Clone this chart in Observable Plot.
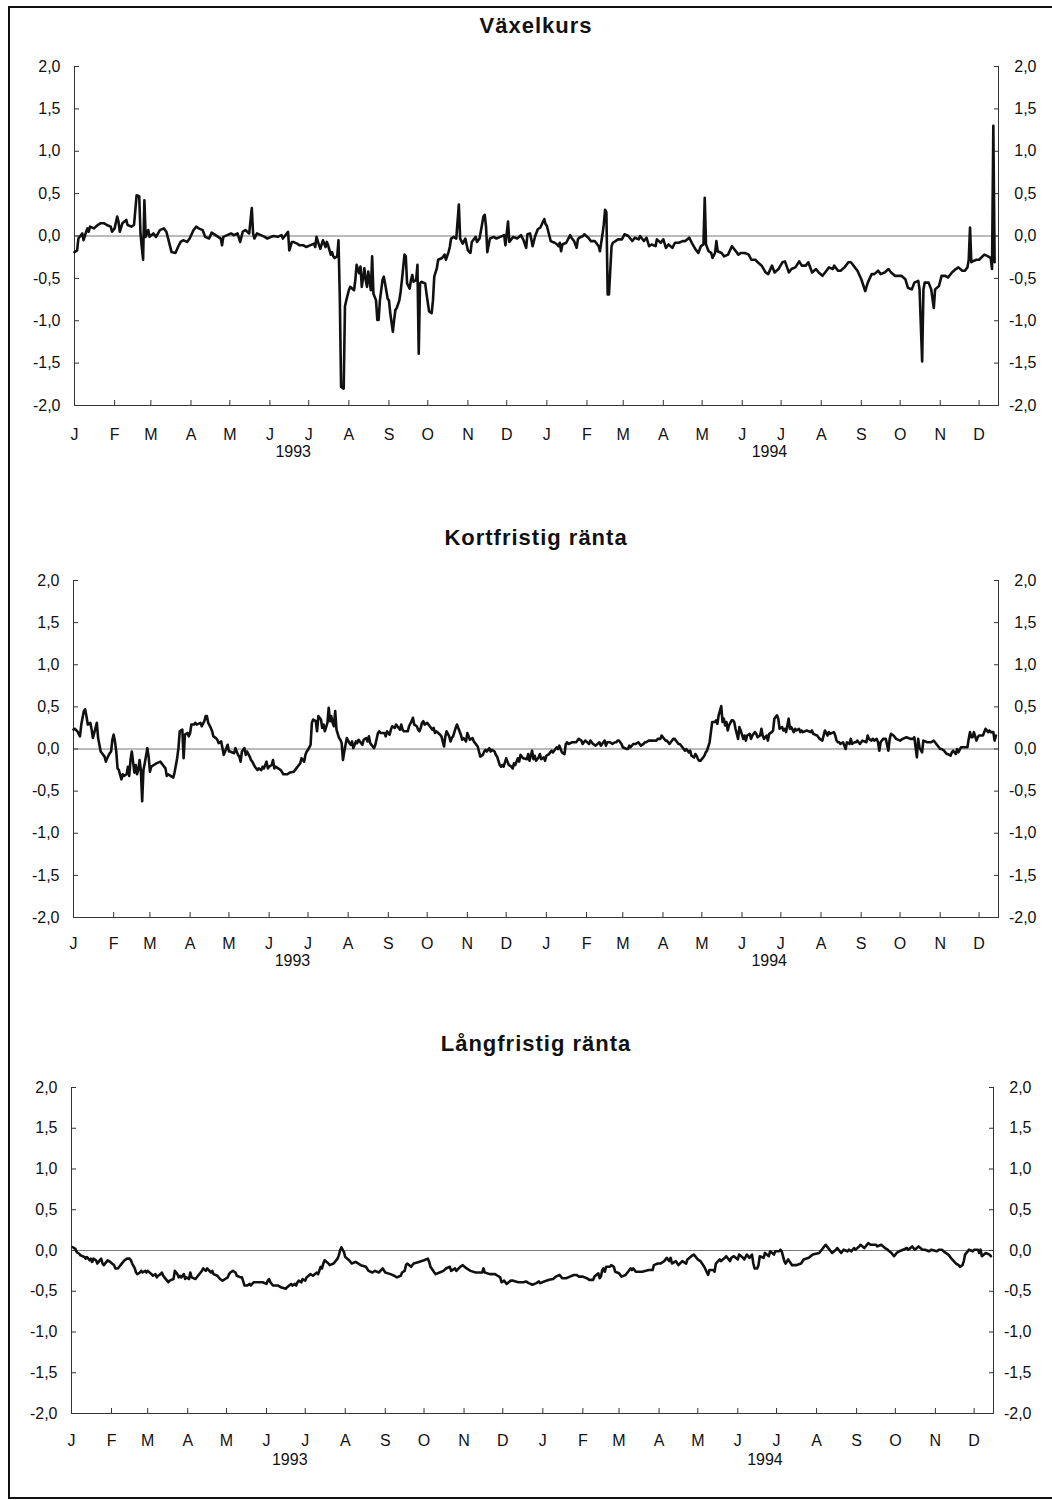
<!DOCTYPE html>
<html><head><meta charset="utf-8">
<script src="https://cdn.jsdelivr.net/npm/d3@7"></script>
<script src="https://cdn.jsdelivr.net/npm/@observablehq/plot@0.6"></script>
<style>
body{margin:0;background:#fff;}
#page{position:relative;width:1052px;height:1500px;overflow:hidden;font-family:"Liberation Sans",Arial,Helvetica,sans-serif;color:#111;}
.frame{position:absolute;left:8px;top:6px;width:1060px;height:1493px;border-left:2px solid #111;border-top:2px solid #111;border-bottom:2px solid #111;box-sizing:border-box;}
.title{position:absolute;left:0;width:1072px;text-align:center;font-weight:bold;font-size:22px;line-height:22px;letter-spacing:1px;color:#111;}
.panel{position:absolute;left:0;}
</style></head>
<body><div id="page"><div class="frame"></div></div>
<script>
// ---- data (day offset from 1993-01-01, value) ----
const titles = ["Växelkurs", "Kortfristig ränta", "Långfristig ränta"];
const monthLabels = ["J","F","M","A","M","J","J","A","S","O","N","D"];
const yearLabels = ["1993","1994"];
const yearLabelDates = [Date.UTC(1993,5,19), Date.UTC(1994,5,22)];
const yTicks = [-2,-1.5,-1,-0.5,0,0.5,1,1.5,2];

const vaxelkurs = [[0,-0.19],[2,-0.17],[3,-0.03],[6,0.03],[7,-0.05],[9,0.05],[10,0.09],[11,0.05],[12,0.11],[15,0.09],[18,0.13],[20,0.15],[23,0.15],[25,0.13],[28,0.11],[29,0.05],[31,0.09],[33,0.23],[34,0.17],[35,0.05],[37,0.15],[40,0.19],[41,0.13],[44,0.11],[46,0.13],[48,0.48],[50,0.47],[51,0.03],[52,-0.13],[53,-0.28],
[54,0.42],[55,-0.01],[57,0.07],[58,-0.01],[61,0.03],[63,-0.01],[66,0.07],[69,0.09],[71,0.05],[73,-0.07],[75,-0.19],[78,-0.2],[80,-0.13],[82,-0.07],[84,-0.05],[87,-0.07],[89,-0.03],[92,0.07],[94,0.11],[96,0.09],[99,0.07],[101,-0.01],[104,-0.03],[106,0.04],[109,0.01],[113,-0.03],[114,-0.11],[115,-0.01],[118,0.01],[121,0.03],[123,0.01],[126,0.03],[128,-0.07],[130,0.05],[132,0.07],[135,0.03],[137,0.33],[138,0.03],[139,-0.03],[141,0.03],[144,0.01],[147,-0.01],[149,-0.03],[152,-0.01],[154,0],[157,-0.01],[160,0.01],[161,-0.03],[164,0.03],[165,0.05],[166,-0.17],[168,-0.07],[169,-0.07],[172,-0.09],[174,-0.11],[177,-0.11],[179,-0.13],[182,-0.11],[185,-0.09],[186,-0.13],[187,-0.01],[189,-0.11],[190,-0.15],[192,-0.05],[194,-0.13],[195,-0.07],[196,-0.11],[198,-0.22],[199,-0.19],[200,-0.24],[201,-0.26],[203,-0.24],[204,-0.05],[205,-0.72],[206,-1.78],[208,-1.8],[209,-0.83],[210,-0.76],[212,-0.64],[213,-0.6],[216,-0.64],[217,-0.52],[218,-0.34],[220,-0.44],[221,-0.36],[222,-0.6],[224,-0.38],[225,-0.52],[226,-0.6],[227,-0.42],[229,-0.64],[230,-0.24],[231,-0.68],[233,-0.76],[234,-0.99],[235,-0.99],[236,-0.76],[238,-0.52],[239,-0.48],[240,-0.56],[242,-0.74],[243,-0.76],[244,-0.91],[246,-1.13],[247,-0.99],[248,-0.87],[249,-0.85],[251,-0.76],[252,-0.66],[253,-0.52],[255,-0.22],[256,-0.24],[257,-0.56],[259,-0.62],[260,-0.52],[261,-0.46],[262,-0.54],[264,-0.52],[265,-0.34],[266,-1.39],[267,-0.56],[268,-0.54],[271,-0.56],[272,-0.68],[274,-0.89],[276,-0.91],[277,-0.76],[278,-0.48],[280,-0.38],[281,-0.28],[284,-0.26],[286,-0.22],[287,-0.28],[289,-0.19],[290,-0.13],[291,-0.03],[293,-0.01],[295,-0.03],[297,0.37],[298,-0.03],[300,-0.09],[302,-0.03],[304,-0.17],[306,-0.2],[307,-0.07],[310,-0.01],[311,-0.07],[313,-0.03],[316,0.23],[317,0.25],[318,0.11],[319,-0.19],[321,-0.03],[324,-0.01],[326,-0.03],[329,-0.01],[332,0.01],[333,-0.11],[335,0.17],[336,-0.07],[339,-0.01],[342,-0.03],[345,0.01],[347,-0.05],
[349,-0.14],[350,0.02],[352,0.03],[353,-0.04],[354,-0.12],[356,0],[358,0.08],[360,0.1],[363,0.2],[364,0.14],[365,0.12],[367,0],[368,-0.06],[371,-0.08],[373,-0.1],[374,-0.12],[375,-0.08],[376,-0.18],[377,-0.1],[380,-0.08],[383,0.01],[384,-0.02],[386,-0.06],[388,-0.14],[389,-0.04],[390,-0.02],[393,0],[394,0.02],[397,-0.02],[399,-0.06],[402,-0.06],[405,-0.12],[406,-0.18],[408,0.02],[409,0.14],[410,0.31],[411,0.28],[412,-0.69],[413,-0.69],[415,-0.12],[416,-0.08],[418,-0.06],[420,-0.04],[423,-0.04],[425,0.02],[428,0],[431,-0.06],[433,-0.02],[436,-0.04],[437,0],[440,-0.06],[442,-0.02],[444,-0.12],[446,-0.1],[449,-0.12],[450,-0.04],[453,-0.08],[455,-0.04],[457,-0.14],[459,-0.1],[462,-0.14],[464,-0.08],[467,-0.08],[470,-0.06],[472,-0.06],[475,-0.02],[477,-0.08],[480,-0.16],[482,-0.2],[484,-0.12],[486,-0.1],[487,0.45],[488,-0.1],[490,-0.18],[492,-0.2],[493,-0.26],[495,-0.2],[496,-0.06],[497,-0.18],[500,-0.2],[502,-0.24],[505,-0.22],[508,-0.12],[510,-0.16],[513,-0.22],[515,-0.2],[518,-0.2],[521,-0.22],[523,-0.28],[526,-0.28],[528,-0.31],[531,-0.35],[534,-0.43],[536,-0.45],[539,-0.35],[541,-0.43],[544,-0.39],[547,-0.31],[549,-0.3],[552,-0.43],[554,-0.39],[557,-0.37],[560,-0.3],[562,-0.35],[565,-0.35],[567,-0.31],[570,-0.43],[573,-0.39],[575,-0.43],[578,-0.47],[580,-0.43],[583,-0.37],[586,-0.39],[587,-0.35],[590,-0.41],[592,-0.41],[595,-0.37],[598,-0.31],[600,-0.31],[603,-0.37],[605,-0.41],[608,-0.51],[611,-0.65],[613,-0.55],[616,-0.45],[618,-0.45],[621,-0.41],[623,-0.45],[626,-0.43],[629,-0.39],[631,-0.43],[634,-0.47],[636,-0.47],[639,-0.47],[642,-0.51],[644,-0.61],[647,-0.63],[649,-0.55],[652,-0.53],[653,-0.63],[655,-1.48],[656,-0.63],[657,-0.55],[660,-0.55],[662,-0.63],[664,-0.85],[665,-0.63],[668,-0.59],[670,-0.47],[673,-0.47],[675,-0.49],[678,-0.43],[681,-0.39],[683,-0.37],[686,-0.41],[688,-0.41],[690,-0.37],[691,-0.28],[692,0.1],[693,-0.31],[694,-0.3],[697,-0.28],[699,-0.28],[703,-0.22],[706,-0.24],[708,-0.26],[709,-0.39],[710,1.3],[711,-0.31]];

const kortfristig = [[0,0.23],[1,0.24],[3,0.21],[5,0.15],[6,0.29],[8,0.45],[9,0.47],[10,0.39],[11,0.29],[13,0.31],[14,0.23],[15,0.13],[16,0.19],[18,0.31],[19,0.13],[21,-0.03],[22,-0.05],[24,-0.09],[25,-0.15],[26,-0.11],[28,-0.05],[29,-0.03],[30,0.11],[31,0.17],[32,0.09],[33,-0.03],[34,-0.23],[35,-0.25],[37,-0.36],[38,-0.3],[39,-0.32],[41,-0.3],[42,-0.21],[43,-0.32],[44,-0.13],[45,-0.03],[47,-0.28],[48,-0.19],[49,-0.3],[50,-0.25],[51,-0.13],[52,-0.25],
[53,-0.62],[54,-0.25],[55,-0.17],[57,0.01],[58,-0.09],[59,-0.27],[60,-0.21],[62,-0.19],[64,-0.17],[67,-0.15],[69,-0.19],[71,-0.23],[72,-0.32],[73,-0.3],[75,-0.32],[77,-0.34],[78,-0.28],[80,-0.11],[81,0.01],[82,0.21],[84,0.23],[85,-0.11],[86,0.17],[88,0.19],[89,0.15],[90,0.19],[91,0.29],[93,0.29],[94,0.31],[95,0.29],[98,0.31],[99,0.27],[101,0.33],[102,0.39],[103,0.39],[104,0.31],[106,0.25],[107,0.21],[108,0.15],[110,0.13],[111,0.11],[112,0.07],[114,0.09],[115,0.01],[116,-0.07],[117,-0.03],[119,0.05],[120,-0.03],[121,-0.03],[124,-0.05],[125,0.01],[127,-0.07],[128,-0.09],[129,-0.15],[130,-0.03],[132,0.01],[133,-0.07],[134,-0.03],[136,-0.09],[137,-0.13],[138,-0.15],[140,-0.21],[142,-0.25],[143,-0.23],[145,-0.25],[146,-0.21],[147,-0.23],[149,-0.15],[150,-0.23],[151,-0.21],[153,-0.19],[154,-0.13],[155,-0.23],[156,-0.21],[158,-0.23],[160,-0.25],[162,-0.3],[165,-0.3],[167,-0.28],[170,-0.27],[172,-0.23],[175,-0.17],[176,-0.11],[178,-0.15],[179,-0.07],[180,-0.03],[181,-0.01],[183,0.05],[184,0.31],[185,0.35],[187,0.33],[188,0.21],[189,0.39],[191,0.35],[192,0.25],[193,0.29],[194,0.21],[196,0.31],[197,0.49],[198,0.33],[199,0.39],[200,0.31],[201,0.27],[202,0.45],[203,0.23],[205,0.13],[206,0.11],[207,0.07],[208,-0.13],[209,-0.03],[211,0.13],[213,0.07],[214,0.05],[215,0.09],[216,0.01],[218,0.09],[219,0.07],[220,0.11],[222,0.07],[223,0.05],[224,0.11],[226,0.13],[227,0.09],[228,0.15],[229,0.07],[231,0.03],[232,0.01],[233,0.05],[235,0.19],[236,0.21],[237,0.19],[240,0.19],[241,0.15],[242,0.21],[244,0.17],[245,0.23],[246,0.27],[248,0.25],[249,0.29],[250,0.27],[252,0.23],[253,0.29],[254,0.23],[255,0.21],[258,0.21],[259,0.27],[261,0.33],[262,0.37],[263,0.29],[265,0.27],[266,0.23],[267,0.21],[268,0.25],[269,0.31],[270,0.33],[271,0.29],[273,0.31],[275,0.27],[277,0.23],[278,0.25],[279,0.19],[280,0.21],[283,0.17],[284,0.15],[286,0.03],[287,0.15],[288,0.21],[290,0.15],[291,0.09],[292,0.13],[293,0.15],[295,0.25],[296,0.29],[297,0.25],[299,0.17],[300,0.11],[301,0.13],[303,0.09],[304,0.19],[305,0.15],[306,0.11],[308,0.13],[309,0.09],[310,0.07],[312,0.03],[313,-0.03],[314,-0.09],[316,-0.07],[317,-0.03],[318,-0.01],[319,-0.03],[321,0.01],[322,-0.03],[323,-0.01],[325,-0.03],[326,-0.07],[327,-0.09],[329,-0.19],[330,-0.21],[331,-0.19],[332,-0.21],[334,-0.11],[335,-0.15],[336,-0.19],[338,-0.21],[339,-0.23],[340,-0.17],[341,-0.19],[343,-0.11],[344,-0.15],[345,-0.07],[347,-0.11],
[350,-0.12],[351,-0.06],[352,-0.14],[354,-0.02],[355,-0.12],[356,-0.08],[357,-0.14],[359,-0.1],[360,-0.06],[361,-0.12],[363,-0.1],[364,-0.14],[365,-0.08],[367,-0.06],[368,-0.04],[369,-0.02],[370,-0.04],[372,0],[373,0.02],[374,0],[375,0.04],[376,0],[377,-0.04],[379,-0.06],[380,0.06],[381,0.08],[382,0.06],[385,0.08],[388,0.08],[390,0.12],[392,0.1],[393,0.06],[394,0.08],[395,0.1],[398,0.06],[399,0.1],[401,0.06],[403,0.04],[406,0.08],[407,0.04],[408,0.06],[410,0.1],[411,0.04],[412,0.08],[414,0.08],[416,0.06],[418,0.08],[419,0.08],[420,0.1],[421,0.1],[423,0.06],[424,0.02],[427,0],[428,0],[429,0.04],[430,0.02],[432,0.06],[434,0.06],[436,0.08],[437,0.06],[438,0.04],[440,0.06],[441,0.08],[442,0.08],[444,0.1],[445,0.1],[447,0.1],[450,0.1],[451,0.12],[453,0.12],[454,0.16],[455,0.14],[457,0.1],[458,0.1],[459,0.08],[460,0.06],[462,0.1],[463,0.12],[464,0.12],[466,0.08],[467,0.06],[468,0.06],[470,0.02],[471,0],[472,-0.02],[473,0],[475,-0.04],[476,-0.02],[477,-0.08],[479,-0.1],[480,-0.06],[481,-0.08],[482,-0.12],[483,-0.14],[484,-0.14],[485,-0.12],[487,-0.08],[488,-0.04],[489,-0.02],[491,0.08],[492,0.2],[493,0.32],[495,0.32],[496,0.34],[497,0.3],[498,0.4],[500,0.51],[501,0.32],[502,0.36],[503,0.28],[504,0.32],[505,0.22],[506,0.28],[508,0.34],[509,0.34],[510,0.32],[511,0.24],[513,0.12],[514,0.26],[515,0.22],[517,0.12],[518,0.16],[519,0.1],[520,0.16],[522,0.18],[523,0.12],[524,0.16],[526,0.2],[527,0.18],[528,0.14],[530,0.16],[531,0.24],[532,0.16],[533,0.12],[535,0.16],[536,0.1],[537,0.18],[539,0.2],[540,0.22],[541,0.36],[543,0.4],[544,0.36],[545,0.24],[547,0.26],[548,0.22],[549,0.24],[550,0.2],[552,0.36],[553,0.24],[554,0.26],[556,0.2],[557,0.24],[558,0.22],[560,0.24],[561,0.2],[562,0.22],[563,0.2],[566,0.22],[569,0.2],[570,0.22],[571,0.18],[574,0.16],[575,0.14],[576,0.12],[578,0.1],[579,0.16],[580,0.22],[582,0.16],[583,0.2],[584,0.18],[587,0.2],[588,0.16],[589,0.1],[590,0.08],[591,0.08],[592,0.06],[594,0.08],[595,0.04],[596,0],[597,0.08],[599,0.06],[600,0.12],[601,0.06],[603,0.08],[604,0.08],[605,0.1],[607,0.06],[608,0.08],[609,0.1],[612,0.08],[613,0.16],[614,0.12],[616,0.1],[617,0.12],[618,0.1],[620,0.12],[621,0.08],[622,-0.02],[623,0.08],[625,0.12],[627,0.12],[629,-0.02],[630,0.12],[631,0.18],[633,0.16],[635,0.12],[638,0.1],[640,0.12],[643,0.14],[646,0.12],[648,0.12],[649,0.14],[651,-0.1],[652,0.12],[653,0.02],[655,-0.04],[656,0.1],[659,0.08],[661,0.08],[662,0.08],[664,0.1],[665,0.08],[666,0.06],[668,0.02],[669,0],[670,0],[672,-0.02],[673,-0.04],[674,-0.06],[675,-0.06],[677,-0.08],[678,-0.04],[679,-0.02],[681,-0.06],[682,0],[683,-0.04],[685,0.02],[687,0.02],[690,0.02],[691,0.12],[692,0.2],[693,0.14],[694,0.14],[695,0.2],[697,0.1],[698,0.14],[699,0.16],[702,0.16],[703,0.2],[704,0.24],[706,0.2],[707,0.22],[708,0.2],[710,0.2],[711,0.1],[712,0.16]];

const langfristig = [[1,0.04],[3,0.02],[4,-0.02],[6,-0.04],[7,-0.06],[10,-0.08],[11,-0.1],[12,-0.08],[14,-0.12],[15,-0.1],[16,-0.14],[17,-0.1],[19,-0.12],[20,-0.16],[21,-0.14],[23,-0.1],[24,-0.16],[25,-0.18],[27,-0.14],[28,-0.12],[30,-0.14],[33,-0.18],[34,-0.22],[36,-0.22],[37,-0.2],[38,-0.18],[40,-0.14],[41,-0.12],[43,-0.1],[45,-0.1],[46,-0.12],[47,-0.16],[49,-0.22],[50,-0.27],[51,-0.29],[53,-0.27],[54,-0.25],[55,-0.27],[57,-0.25],
[58,-0.27],[59,-0.25],[62,-0.29],[63,-0.31],[65,-0.29],[66,-0.33],[67,-0.31],[69,-0.29],[70,-0.27],[71,-0.31],[72,-0.33],[74,-0.37],[75,-0.39],[76,-0.37],[79,-0.35],[80,-0.25],[82,-0.29],[83,-0.33],[84,-0.31],[85,-0.33],[87,-0.29],[88,-0.35],[89,-0.33],[91,-0.35],[92,-0.27],[93,-0.33],[96,-0.35],[98,-0.31],[100,-0.27],[101,-0.25],[102,-0.22],[104,-0.25],[105,-0.22],[108,-0.27],[109,-0.25],[110,-0.29],[113,-0.31],[115,-0.35],[117,-0.37],[119,-0.35],[121,-0.33],[122,-0.29],[123,-0.27],[125,-0.25],[127,-0.27],[128,-0.31],[131,-0.33],[132,-0.33],[134,-0.43],[136,-0.43],[138,-0.41],[139,-0.43],[141,-0.39],[144,-0.39],[148,-0.39],[151,-0.41],[152,-0.37],[153,-0.35],[154,-0.39],[156,-0.43],[160,-0.43],[162,-0.45],[166,-0.47],[167,-0.45],[170,-0.41],[171,-0.43],[173,-0.41],[174,-0.43],[175,-0.39],[176,-0.37],[178,-0.39],[179,-0.35],[181,-0.37],[182,-0.33],[185,-0.29],[187,-0.31],[190,-0.27],[191,-0.29],[193,-0.2],[194,-0.22],[195,-0.16],[196,-0.12],[199,-0.16],[200,-0.18],[203,-0.16],[206,-0.1],[207,-0.06],[208,0],[209,0.04],[211,-0.02],[212,-0.08],[215,-0.12],[217,-0.16],[220,-0.14],[224,-0.18],[228,-0.2],[230,-0.25],[233,-0.27],[235,-0.25],[238,-0.27],[241,-0.22],[243,-0.27],[247,-0.29],[250,-0.31],[252,-0.33],[255,-0.31],[256,-0.27],[258,-0.25],[259,-0.18],[260,-0.16],[263,-0.2],[265,-0.16],[269,-0.14],[273,-0.12],[276,-0.1],[277,-0.14],[278,-0.2],[281,-0.27],[282,-0.29],[285,-0.27],[288,-0.25],[290,-0.22],[293,-0.2],[294,-0.25],[297,-0.22],[298,-0.25],[301,-0.2],[303,-0.18],[306,-0.22],[309,-0.25],[313,-0.27],[318,-0.27],[319,-0.22],[320,-0.27],[324,-0.29],[328,-0.29],[330,-0.31],[332,-0.33],[333,-0.39],[335,-0.37],[337,-0.41],[340,-0.37],[342,-0.37],[346,-0.39],[350,-0.39],
[352,-0.38],[354,-0.4],[357,-0.42],[360,-0.4],[362,-0.38],[363,-0.4],[366,-0.38],[370,-0.36],[373,-0.35],[375,-0.32],[378,-0.3],[379,-0.32],[380,-0.34],[383,-0.34],[386,-0.32],[389,-0.3],[391,-0.3],[393,-0.32],[396,-0.32],[399,-0.34],[401,-0.36],[404,-0.36],[405,-0.32],[408,-0.28],[409,-0.34],[410,-0.32],[411,-0.24],[412,-0.22],[413,-0.26],[414,-0.2],[417,-0.2],[418,-0.18],[420,-0.2],[421,-0.26],[424,-0.28],[426,-0.32],[429,-0.3],[431,-0.26],[433,-0.22],[434,-0.24],[435,-0.22],[437,-0.26],[442,-0.26],[447,-0.24],[450,-0.24],[451,-0.18],[454,-0.16],[456,-0.16],[459,-0.13],[461,-0.09],[463,-0.13],[464,-0.09],[465,-0.16],[468,-0.13],[470,-0.18],[473,-0.13],[476,-0.16],[477,-0.11],[480,-0.07],[482,-0.05],[485,-0.11],[487,-0.13],[490,-0.2],[493,-0.3],[494,-0.24],[497,-0.24],[498,-0.26],[499,-0.16],[502,-0.11],[503,-0.13],[506,-0.09],[507,-0.07],[510,-0.13],[511,-0.09],[513,-0.07],[516,-0.11],[517,-0.05],[520,-0.09],[521,-0.11],[523,-0.05],[525,-0.09],[527,-0.05],[528,-0.16],[529,-0.22],[531,-0.22],[532,-0.18],[533,-0.07],[536,-0.09],[537,-0.03],[540,-0.07],[541,-0.01],[544,-0.05],[545,-0.01],[548,-0.01],[549,0.01],[550,-0.01],[552,-0.13],[553,-0.16],[555,-0.11],[558,-0.18],[561,-0.18],[565,-0.16],[567,-0.11],[571,-0.09],[574,-0.05],[579,-0.03],[581,0.01],[583,0.05],[584,0.07],[585,0.05],[588,-0.01],[589,-0.03],[592,0.01],[593,0.03],[596,-0.03],[598,0.01],[601,-0.01],[602,0.01],[604,-0.01],[606,0.03],[607,0.01],[610,0.05],[611,0.07],[614,0.03],[617,0.09],[619,0.07],[623,0.07],[624,0.05],[627,0.07],[630,0.03],[632,0.01],[635,-0.03],[637,-0.07],[639,-0.03],[641,-0.01],[644,0.01],[647,0.03],[648,0.01],[651,0.05],[653,0.01],[656,0.05],[659,0.01],[661,0.01],[664,-0.01],[666,0.01],[670,-0.01],[672,0.01],[674,0.01],[677,-0.03],[679,-0.05],[682,-0.11],[685,-0.16],[687,-0.18],[688,-0.2],[690,-0.18],[691,-0.13],[692,-0.05],[695,0.01],[698,-0.01],[699,0.01],[702,0.01],[703,-0.03],[704,0.01],[705,-0.07],[708,-0.03],[711,-0.05],[712,-0.07]];

const series = [vaxelkurs, kortfristig, langfristig];
const xStart = new Date(Date.UTC(1993,0,1));
const xEnd = new Date(Date.UTC(1994,11,16));

// layout per panel
const layout = [
  {svgTop:46,  titleTop:15,   mt:20, mb:71, ml:74, mr:54, monthPad:23, yearDy:51},
  {svgTop:560, titleTop:527,  mt:20, mb:73, ml:73, mr:54, monthPad:20, yearDy:48},
  {svgTop:1067,titleTop:1033, mt:20, mb:84, ml:71, mr:59, monthPad:21, yearDy:51}
];

const fmt = d => d.toFixed(1).replace(".", ",");
const font = '"Liberation Sans", Arial, Helvetica, sans-serif';
const page = document.getElementById("page");
const monthTicks = d3.utcMonth.range(xStart, xEnd);

series.forEach((s, k) => {
  const L = layout[k];
  const data = s.map(([d, v]) => ({date: d3.utcDay.offset(xStart, d), value: v}));
  const years = yearLabels.map((t, i) => ({text: t, date: new Date(yearLabelDates[i])}));
  const chart = Plot.plot({
    width: 1052, height: 430,
    marginTop: L.mt, marginBottom: L.mb, marginLeft: L.ml, marginRight: L.mr,
    x: {type: "utc", domain: [xStart, xEnd], label: null},
    y: {domain: [-2, 2], label: null},
    style: {fontFamily: font, fontSize: "16px", color: "#111", background: "transparent", overflow: "visible"},
    marks: [
      Plot.ruleY([0], {stroke: "#777", strokeWidth: 1}),
      Plot.frame({anchor: "left", stroke: "#333", strokeWidth: 1}),
      Plot.frame({anchor: "right", stroke: "#333", strokeWidth: 1}),
      Plot.frame({anchor: "bottom", stroke: "#333", strokeWidth: 1}),
      Plot.axisY({anchor: "left", ticks: yTicks, tickSize: 5, dx: 5, tickFormat: () => "", label: null, stroke: "#333"}),
      Plot.axisY({anchor: "right", ticks: yTicks, tickSize: 5, dx: -5, tickFormat: () => "", label: null, stroke: "#333"}),
      Plot.axisY({anchor: "left", ticks: yTicks, tickSize: 0, tickPadding: 14, tickFormat: fmt, label: null, fill: "#111"}),
      Plot.axisY({anchor: "right", ticks: yTicks, tickSize: 0, tickPadding: 38, textAnchor: "end", tickFormat: fmt, label: null, fill: "#111"}),
      Plot.axisX({ticks: monthTicks, tickSize: 5, dy: -5, tickFormat: () => "", label: null, stroke: "#333"}),
      Plot.axisX({ticks: monthTicks, tickSize: 0, tickPadding: L.monthPad, tickFormat: d => monthLabels[d.getUTCMonth()], label: null, fill: "#111"}),
      Plot.text(years, {x: "date", text: "text", frameAnchor: "bottom", dy: L.yearDy, fill: "#111"}),
      Plot.line(data, {x: "date", y: "value", stroke: "#111", strokeWidth: 2.6, strokeLinejoin: "round", strokeLinecap: "round"})
    ]
  });
  chart.classList.add("panel");
  chart.style.position = "absolute";
  chart.style.left = "0px";
  chart.style.top = L.svgTop + "px";
  page.appendChild(chart);
  const t = document.createElement("div");
  t.className = "title";
  t.style.top = L.titleTop + "px";
  t.textContent = titles[k];
  page.appendChild(t);
});
</script>
</body></html>
